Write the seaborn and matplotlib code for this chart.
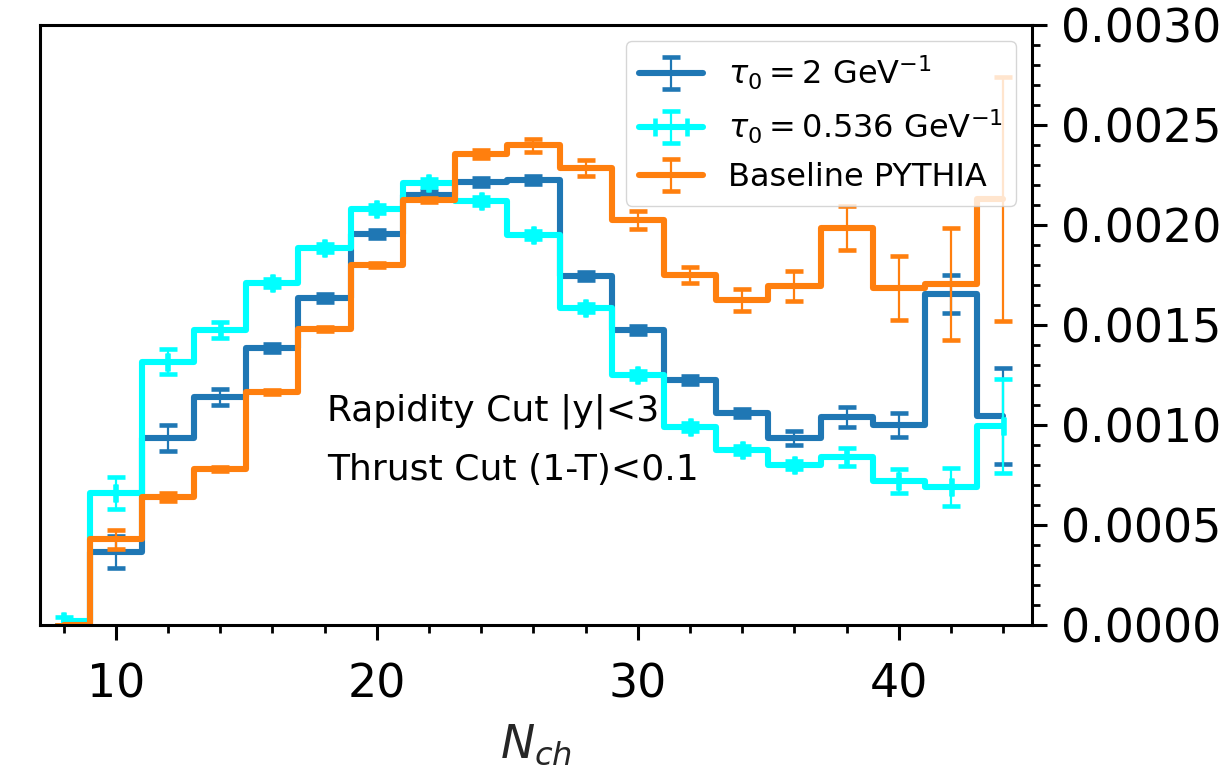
import numpy as np
import matplotlib
matplotlib.use("Agg")
import matplotlib.pyplot as plt
from matplotlib.ticker import MultipleLocator, FormatStrFormatter
from matplotlib.legend_handler import HandlerTuple
import seaborn as sns

# multiplicity bins (centres)
nch = [8, 10, 12, 14, 16, 18, 20, 22, 24, 26, 28, 30, 32, 34, 36, 38, 40, 42, 44]

# tau0 = 2 GeV^-1
tau2 = [0.0, 0.000365, 0.000935, 0.00114, 0.001385, 0.001634, 0.001955, 0.00215,
        0.002217, 0.002227, 0.001745, 0.001475, 0.001225, 0.00106, 0.000937,
        0.00104, 0.001001, 0.001654, 0.001045]
tau2_err = [0.0, 0.00008, 0.000064, 0.00004, 0.00002, 0.00002, 0.00002, 0.00002,
            0.00002, 0.00002, 0.00002, 0.00002, 0.00002, 0.00002, 0.000035,
            0.00005, 0.00006, 0.000095, 0.00024]

# tau0 = 0.536 GeV^-1
tau0536 = [0.00002, 0.00066, 0.001317, 0.001475, 0.001712, 0.001883, 0.002078,
           0.002208, 0.00212, 0.00195, 0.001585, 0.00125, 0.000992, 0.000875,
           0.000801, 0.00084, 0.00072, 0.00069, 0.000996]
tau0536_err = [0.00002, 0.00008, 0.000063, 0.00004, 0.00002, 0.00002, 0.00002,
               0.00002, 0.00002, 0.00002, 0.00002, 0.00002, 0.00002, 0.00002,
               0.00002, 0.000045, 0.00006, 0.000095, 0.000235]

# baseline PYTHIA
pythia = [0.0, 0.000428, 0.000642, 0.000778, 0.001163, 0.001478, 0.0018, 0.002126,
          0.002357, 0.002398, 0.002286, 0.002023, 0.00175, 0.001625, 0.001696,
          0.001984, 0.001686, 0.001706, 0.00213]
pythia_err = [0.0, 0.000048, 0.00002, 0.00001, 0.00001, 0.00001, 0.00001, 0.00001,
              0.00002, 0.000034, 0.00004, 0.000045, 0.00004, 0.000055, 0.000075,
              0.00011, 0.00016, 0.00028, 0.00061]

labels = [r'$\tau_0 = 2$ GeV$^{-1}$', r'$\tau_0 = 0.536$ GeV$^{-1}$', 'Baseline PYTHIA']
colors = ['#1f77b4', '#00ffff', '#ff7f0e']

sns.set_style("ticks", {"axes.edgecolor": "black", "xtick.color": "black",
                        "ytick.color": "black", "text.color": "black"})
plt.rcParams['font.family'] = ['DejaVu Sans']
plt.rcParams['axes.linewidth'] = 2.2

fig = plt.figure(figsize=(12.2, 7.69), dpi=100)
ax = fig.add_axes([0.0328, 0.1873, 0.8131, 0.7802])

series = [(tau2, tau2_err, None), (tau0536, tau0536_err, 0.02), (pythia, pythia_err, None)]
handles = []
for (vals, errs, xerr), col, lab in zip(series, colors, labels):
    sns.lineplot(x=nch, y=vals, ax=ax, color=col, lw=4.4, drawstyle='steps-mid',
                 errorbar=None, legend=False)
    line = ax.lines[-1]
    cont = ax.errorbar(nch, vals, yerr=errs, xerr=xerr, fmt='none', ecolor=col,
                       elinewidth=1.6, capsize=6.4, capthick=3.3)
    handles.append((line, cont))

ax.text(18.1, 0.00107, 'Rapidity Cut |y|<3', fontsize=26, va='center', ha='left')
ax.text(18.1, 0.000775, 'Thrust Cut (1-T)<0.1', fontsize=26, va='center', ha='left')

ax.set_xlim(7.1, 45.1)
ax.set_ylim(0, 0.003)
ax.yaxis.tick_right()
ax.xaxis.set_major_locator(MultipleLocator(10))
ax.xaxis.set_minor_locator(MultipleLocator(2))
ax.yaxis.set_major_locator(MultipleLocator(0.0005))
ax.yaxis.set_minor_locator(MultipleLocator(0.0001))
ax.yaxis.set_major_formatter(FormatStrFormatter('%.4f'))
ax.tick_params(which='major', length=11, width=2.2, labelsize=33, pad=10)
ax.tick_params(which='minor', length=6, width=2.0)
ax.tick_params(axis='x', which='major', pad=16)
ax.tick_params(axis='x', which='both', top=False)
ax.tick_params(axis='y', which='both', left=False, right=True)

ax.set_xlabel(r'$N_{ch}$', fontsize=33, labelpad=11)

ax.legend(handles, labels, loc='upper right', fontsize=23, handlelength=2.0,
          handler_map={tuple: HandlerTuple(ndivide=1, pad=0)})

fig.savefig('out.png', dpi=100)
